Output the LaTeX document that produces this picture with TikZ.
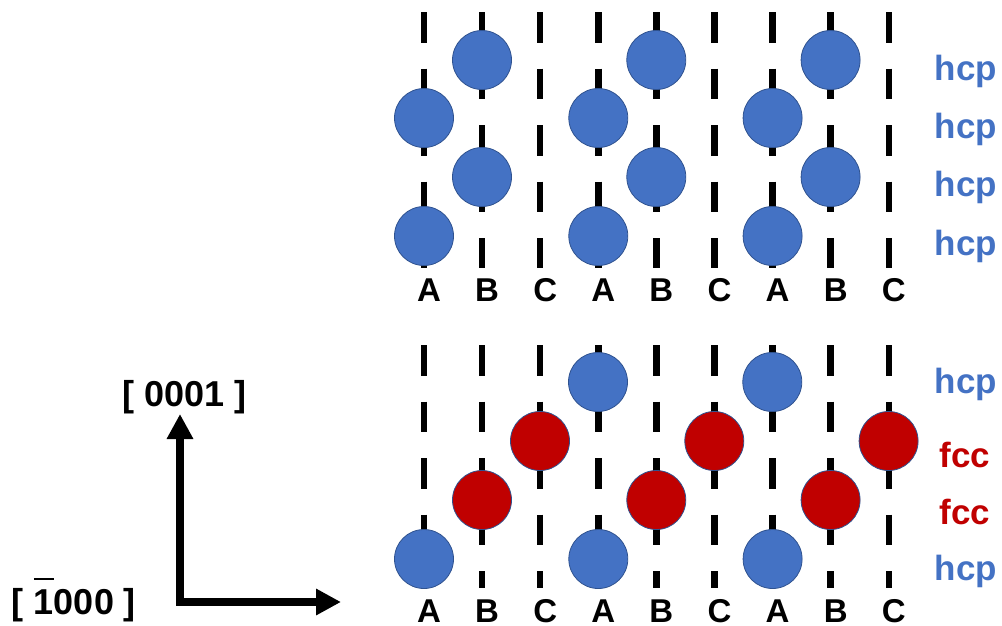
\documentclass[tikz,border=0pt]{standalone}
\usepackage{fontspec}
\setmainfont{Liberation Sans}
\usetikzlibrary{arrows.meta,positioning}
\definecolor{hcpblue}{HTML}{4472C4}
\definecolor{fccred}{HTML}{C00000}
\definecolor{rimblue}{HTML}{2F528F}
\newcommand{\barone}{\rlap{\rule[34pt]{0.556em}{2pt}}1}

\begin{document}
\begin{tikzpicture}[x=1pt,y=-1pt,
	site/.style={line width=6.5pt,dash pattern=on 30.5pt off 26pt},
	atomhcp/.style={circle,fill=hcpblue,draw=rimblue,line width=0.8pt,minimum size=59pt,inner sep=0pt},
	atomfcc/.style={atomhcp,fill=fccred},
	layer/.style={inner sep=0pt,font=\fontsize{33}{36}\selectfont\bfseries},
	stack/.style={font=\fontsize{35}{40}\selectfont\bfseries},
	dir/.style={font=\fontsize{36}{40}\selectfont\bfseries},
	axis/.style={line width=8pt,line join=miter,{Triangle[length=25pt,width=25pt]}-{Triangle[length=25pt,width=25pt]}}]
			\useasboundingbox (0,0) rectangle (1002,625);

			% stacking sites A B C
			\foreach \i/\l in {0/A,1/B,2/C,3/A,4/B,5/C,6/A,7/B,8/C}{
				\coordinate (top\i) at (424+58.1*\i,12);
				\coordinate (mid\i) at (424+58.1*\i,268);
				\coordinate (low\i) at (424+58.1*\i,345);
				\coordinate (end\i) at (424+58.1*\i,588);
				\draw [site] (top\i) -- (mid\i);
				\draw [site] (low\i) -- (end\i);
				\node[layer] (lu\i) at (429+58.1*\i,290) {\l};
				\node[layer] (ll\i) at (429+58.1*\i,611) {\l};
			}

			% hcp stacking
			\foreach \g in {0,1,2}{
				\node[atomhcp] (p1\g) at (482+174.3*\g,60) {};
				\node[atomhcp] (p2\g) at (424+174.3*\g,118) {};
				\node[atomhcp] (p3\g) at (482+174.3*\g,177) {};
				\node[atomhcp] (p4\g) at (424+174.3*\g,236) {};
			}

			% fault stacking
			\foreach \g in {0,1}
				\node[atomhcp] (q1\g) at (598+174.3*\g,382) {};
			\foreach \g in {0,1,2}{
				\node[atomfcc] (q2\g) at (540+174.3*\g,441) {};
				\node[atomfcc] (q3\g) at (482+174.3*\g,500) {};
				\node[atomhcp] (q4\g) at (424+174.3*\g,559) {};
			}

			\node[stack,text=hcpblue] (s1) at (966,71) {hcp};
			\node[stack,text=hcpblue] (s2) at (966,129) {hcp};
			\node[stack,text=hcpblue] (s3) at (966,187) {hcp};
			\node[stack,text=hcpblue] (s4) at (966,246) {hcp};
			\node[stack,text=hcpblue] (f1) at (966,384) {hcp};
			\node[stack,text=fccred] (f2) at (965,455) {fcc};
			\node[stack,text=fccred] (f3) at (965,512) {fcc};
			\node[stack,text=hcpblue] (f4) at (966,571) {hcp};

			% directions
			\coordinate (corner) at (180,602);
			\coordinate (up) at (180,414);
			\coordinate (right) at (341,602);
			\draw [axis] (up) -- (corner) -- (right);
			\node[dir] (zaxis) at (185,397) {[ 0001 ]};
			\node[dir] (xaxis) at (74,600) {[ \barone000 ]};
		\end{tikzpicture}
\end{document}
